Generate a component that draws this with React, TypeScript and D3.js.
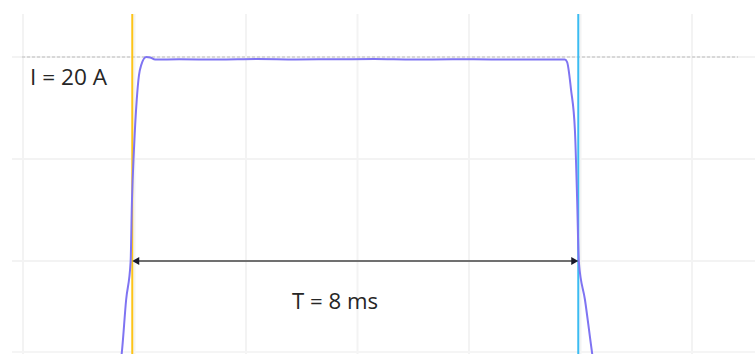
import React from "react";
import * as d3 from "d3";

// time in ms, current in A
const waveTime = [1.72, 1.77, 1.85, 1.93, 1.955, 1.99, 2.04, 2.08, 2.12, 2.21, 2.28, 2.37, 2.8, 3.5, 4.2, 4.9, 5.6, 6.3, 7.0, 7.7, 8.4, 9.1, 9.72, 9.76, 9.83, 9.9, 9.94, 9.97, 10.08, 10.21, 10.26];
const waveCurrent = [-11, -9.1, -3.8, -0.1, 6.0, 10.9, 15.8, 18.2, 19.2, 20.0, 19.95, 19.75, 19.78, 19.75, 19.8, 19.76, 19.78, 19.8, 19.75, 19.78, 19.76, 19.75, 19.75, 19.5, 16.8, 12.8, 6.0, -0.1, -3.8, -9.1, -11];
const gridTimes = [0, 2, 4, 6, 8, 10, 12];
const gridCurrents = [20, 10, 0];
const cursorStart = 1.96;
const cursorEnd = 9.96;
const refCurrent = 20;
const currentLabel = "I = 20 A";
const periodLabel = "T = 8 ms";

export default function App() {
  const W = 755, H = 354;
  const top = 14;
  const x = d3.scaleLinear().domain([0, 12]).range([23, 23 + 12 * 55.75]);
  const y = d3.scaleLinear().domain([0, 20]).range([261, 57]);
  const pts: [number, number][] = waveTime.map((t, i) => [t, waveCurrent[i]]);
  const line = d3.line<[number, number]>().x(d => x(d[0])).y(d => y(d[1])).curve(d3.curveMonotoneX);
  const xs = x(cursorStart), xe = x(cursorEnd), ya = y(0);
  return (
    <svg width={W} height={H} style={{ position: "absolute", left: 0, top: 0, background: "#fff" }}>
      <defs>
        <clipPath id="plot"><rect x={0} y={top} width={W} height={H - top} /></clipPath>
      </defs>
      {gridTimes.map(t => (
        <line key={"gx" + t} x1={x(t)} x2={x(t)} y1={top} y2={H} stroke="#f3f3f3" strokeWidth={2} />
      ))}
      {gridCurrents.map(c => (
        <line key={"gy" + c} x1={12} x2={W} y1={y(c)} y2={y(c)} stroke="#f3f3f3" strokeWidth={2} />
      ))}
      <line x1={12} x2={W} y1={352} y2={352} stroke="#f5f5f5" strokeWidth={2} />
      <line x1={22} x2={738} y1={y(refCurrent)} y2={y(refCurrent)} stroke="#bdbdbd" strokeWidth={1} strokeDasharray="3,2" />
      <line x1={xs} x2={xs} y1={top} y2={H} stroke="#fcc419" strokeWidth={2} />
      <line x1={xe} x2={xe} y1={top} y2={H} stroke="#3bbcf2" strokeWidth={2} />
      <path d={line(pts) || ""} fill="none" stroke="#7f74f2" strokeWidth={2} clipPath="url(#plot)" />
      <line x1={xs + 4} x2={xe - 4} y1={ya} y2={ya} stroke="#707070" strokeWidth={2} />
      <path d={`M${xs},${ya} L${xs + 7},${ya - 4} L${xs + 7},${ya + 4} Z`} fill="#1a1a2a" />
      <path d={`M${xe},${ya} L${xe - 7},${ya - 4} L${xe - 7},${ya + 4} Z`} fill="#1a1a2a" />
      <text x={30} y={85} fontFamily="Open Sans" fontSize={22} fill="#262626" textLength={77} lengthAdjust="spacingAndGlyphs">{currentLabel}</text>
      <text x={292} y={309} fontFamily="Open Sans" fontSize={21} fill="#262626" textLength={86} lengthAdjust="spacingAndGlyphs">{periodLabel}</text>
    </svg>
  );
}
